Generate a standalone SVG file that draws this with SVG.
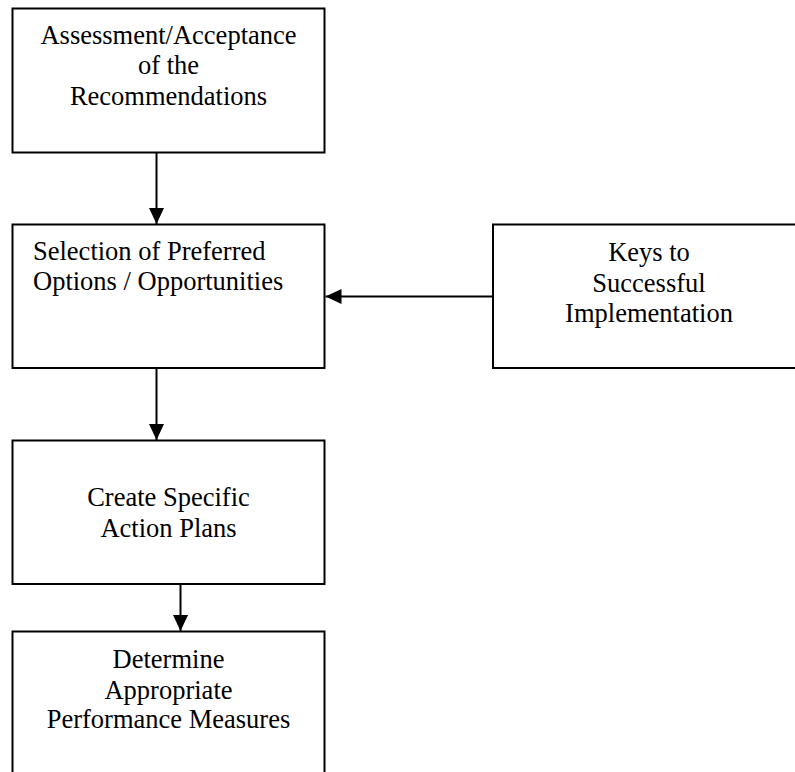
<svg xmlns="http://www.w3.org/2000/svg" width="795" height="772" viewBox="0 0 795 772">
  <style>
    .box { fill: #ffffff; stroke: #000000; stroke-width: 2; }
    .lbl { font-family: "Liberation Serif", "Times New Roman", serif; font-size: 26.5px; fill: #000000; }
    .mid { text-anchor: middle; }
    .edge { stroke: #000000; stroke-width: 2; fill: none; marker-end: url(#head); }
  </style>
  <defs>
    <marker id="head" markerUnits="userSpaceOnUse" markerWidth="16" markerHeight="16" viewBox="0 0 16 16" refX="16" refY="8" orient="auto">
      <path d="M0,0.5 L16,8 L0,15.5 Z" fill="#000000"/>
    </marker>
  </defs>
  <rect width="795" height="772" fill="#ffffff"/>

  <g id="connectors">
    <line class="edge" x1="156.5" y1="153" x2="156.5" y2="224"/>
    <line class="edge" x1="156.5" y1="369" x2="156.5" y2="440"/>
    <line class="edge" x1="180.5" y1="585" x2="180.5" y2="631"/>
    <line class="edge" x1="492" y1="296.5" x2="325.5" y2="296.5"/>
  </g>

  <g id="assessment">
    <rect class="box" x="12.5" y="8.5" width="312" height="144"/>
    <text class="lbl mid" x="168.5" y="44">Assessment/Acceptance</text>
    <text class="lbl mid" x="168.5" y="74">of the</text>
    <text class="lbl mid" x="168.5" y="104.5">Recommendations</text>
  </g>

  <g id="selection">
    <rect class="box" x="12.5" y="224.5" width="312" height="143.5"/>
    <text class="lbl" x="33" y="260">Selection of Preferred</text>
    <text class="lbl" x="33" y="290">Options / Opportunities</text>
  </g>

  <g id="keys">
    <rect class="box" x="493" y="224.5" width="312" height="143.5"/>
    <text class="lbl mid" x="649" y="261">Keys to</text>
    <text class="lbl mid" x="649" y="292">Successful</text>
    <text class="lbl mid" x="649" y="322">Implementation</text>
  </g>

  <g id="action-plans">
    <rect class="box" x="12.5" y="440.5" width="312" height="143.5"/>
    <text class="lbl mid" x="168.5" y="506">Create Specific</text>
    <text class="lbl mid" x="168.5" y="536.5">Action Plans</text>
  </g>

  <g id="performance">
    <rect class="box" x="12.5" y="631.5" width="312" height="150"/>
    <text class="lbl mid" x="168.5" y="668">Determine</text>
    <text class="lbl mid" x="168.5" y="698.5">Appropriate</text>
    <text class="lbl mid" x="168.5" y="728">Performance Measures</text>
  </g>
</svg>
